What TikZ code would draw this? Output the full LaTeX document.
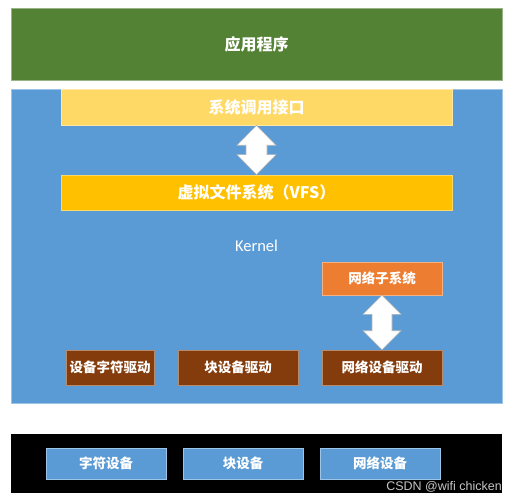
\documentclass[tikz,border=0pt]{standalone}
\usepackage{fontspec}
\setmainfont{Carlito}
\newfontfamily\cjk{Noto Sans CJK SC}
\newfontfamily\wmfont{Liberation Sans}
\usetikzlibrary{calc}
\definecolor{appgreen}{HTML}{548235}
\definecolor{kblue}{HTML}{5B9BD5}
\definecolor{lyellow}{HTML}{FFD966}
\definecolor{gold}{HTML}{FFC000}
\definecolor{orng}{HTML}{ED7D31}
\definecolor{brwn}{HTML}{843C0C}
\tikzset{
  box/.style={draw=#1!60!white, line width=0.6pt, fill=#1, text=white, inner sep=0pt, font=\cjk\bfseries\fontsize{13.5}{16}\selectfont},
  bigbox/.style={box=#1, font=\cjk\bfseries\fontsize{16}{19}\selectfont},
  arr/.style={draw=gray!60, fill=white, line width=0.6pt, line join=miter}
}
\newcommand\dblarrow[5]{% top node, bottom node, head half width, shaft half width, head length
  \draw[arr] (#1.south) -- ($(#1.south)+(#3,#5)$) -- ($(#1.south)+(#4,#5)$)
    -- ($(#2.north)+(#4,-#5)$) -- ($(#2.north)+(#3,-#5)$) -- (#2.north)
    -- ($(#2.north)+(-#3,-#5)$) -- ($(#2.north)+(-#4,-#5)$)
    -- ($(#1.south)+(-#4,#5)$) -- ($(#1.south)+(-#3,#5)$) -- cycle;}
\begin{document}
\begin{tikzpicture}[x=1pt,y=-1pt]
\useasboundingbox[fill=white] (0,0) rectangle (514,500);
% application
\node[bigbox=appgreen, minimum width=491, minimum height=72] (app) at (256.5,44) {应用程序};
% kernel
\node[box=kblue, minimum width=491, minimum height=314, font=\fontsize{16.5}{19}\selectfont] (kernel) at (256.5,246) {Kernel};
\node[bigbox=lyellow, minimum width=391, minimum height=36] (sys) at (256.5,107) {系统调用接口};
\node[bigbox=gold, minimum width=391, minimum height=35] (vfs) at (256.5,192.5) {虚拟文件系统（VFS）};
\node[box=orng, minimum width=120, minimum height=33] (net) at (382,278.5) {网络子系统};
\node[box=brwn, minimum width=88, minimum height=35] (drv1) at (110,367.5) {设备字符驱动};
\node[box=brwn, minimum width=120, minimum height=35] (drv2) at (238,367.5) {块设备驱动};
\node[box=brwn, minimum width=120, minimum height=35] (drv3) at (382,367.5) {网络设备驱动};
\dblarrow{sys}{vfs}{19.5}{10.5}{20}
\dblarrow{net}{drv3}{19}{10}{19}
% hardware
\node[draw=none, fill=black, minimum width=491, minimum height=59] (hw) at (256.5,463.5) {};
\node[box=kblue, minimum width=120, minimum height=31] (dev1) at (106,463.5) {字符设备};
\node[box=kblue, minimum width=120, minimum height=31] (dev2) at (243,463.5) {块设备};
\node[box=kblue, minimum width=120, minimum height=31] (dev3) at (380,463.5) {网络设备};
\node[anchor=south east, inner sep=0pt, text=gray!45, font=\wmfont\fontsize{12.5}{14}\selectfont] (wm) at (502,492.5) {CSDN @wifi chicken};
\end{tikzpicture}
\end{document}
